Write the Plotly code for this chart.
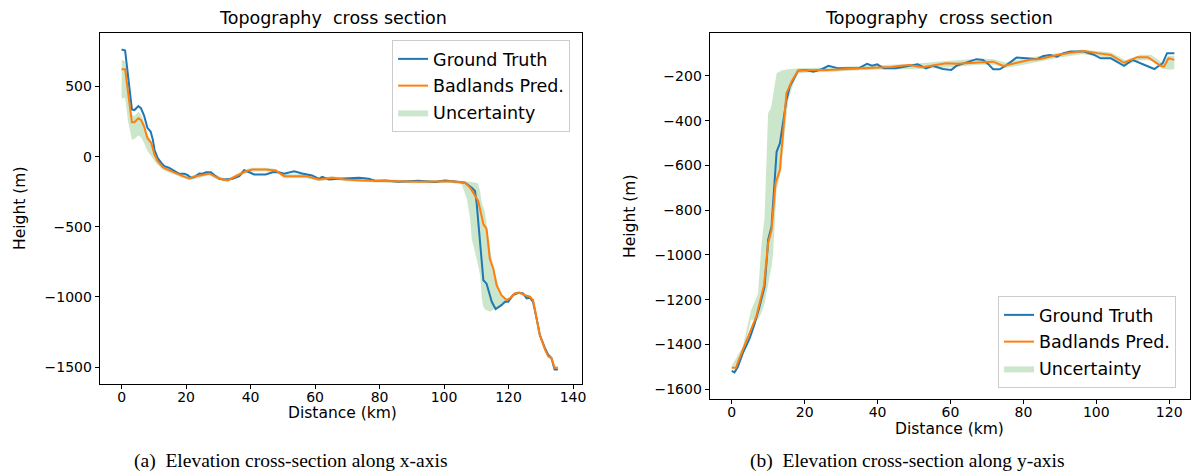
import plotly.graph_objects as go

W, H = 1194, 472

# ---------------- Left panel (along x-axis) ----------------
gt_a_x = [0, 1.1, 3.2, 4, 5.2, 6, 7, 8, 9, 9.7, 10.2, 11.2, 12.3, 13.3, 14.8, 16.4, 17.9, 19.5, 20.5, 21.5,
          22.6, 24.1, 25.1, 26.2, 27.7, 28.7, 30.3, 31.8, 34.4, 36.5, 38, 39.6, 41.1, 44.7, 46.8, 48.8, 50.4,
          53.5, 56, 59.1, 61.2, 62.2, 64.3, 67.4, 73.6, 76.7, 78.7, 81.8, 85.9, 92.1, 97.2, 100.3, 104.4,
          106.5, 108.6, 109.6, 110.1, 111.2, 112.2, 113.2, 114.8, 116, 117.8, 118.9, 119.9, 121.4, 123,
          124.5, 125.6, 126.6, 127.6, 128.7, 129.7, 131.3, 132.3, 133.3, 134.3, 135.3]
gt_a_y = [763, 756, 337, 332, 360, 346, 290, 205, 179, 120, 49, -10, -45, -68, -80, -103, -122, -122, -131, -151,
          -146, -120, -122, -111, -111, -131, -158, -163, -158, -139, -97, -111, -127, -127, -111, -111, -122,
          -104, -120, -134, -158, -144, -163, -158, -151, -158, -174, -170, -179, -172, -181, -170, -181,
          -186, -221, -245, -327, -610, -881, -905, -1034, -1086, -1058, -1034, -1034, -987, -970,
          -975, -1010, -1005, -1034, -1152, -1270, -1364, -1411, -1435, -1517, -1517]

pred_a_x = [0, 1.1, 3.2, 4, 5.2, 6, 7, 8, 9.2, 10.2, 11.2, 12.8, 14.3, 16.4, 19, 21, 23, 25.1, 27.2, 29.3, 31.4,
            33, 36.5, 38.5, 40.6, 44.7, 47.8, 50.4, 54, 57.1, 61.2, 65.3, 69.4, 74.6, 81.8, 92.1, 102.4, 105.5,
            106.5, 108.1, 109.1, 110.6, 112.2, 113.2, 114.2, 115.3, 116.3, 117.8, 119.4, 120.4, 121.9, 123.5,
            125, 126.6, 127.6, 128.7, 129.7, 131.3, 132.3, 133.3, 134.3, 135.3]
pred_a_y = [622, 622, 245, 245, 273, 262, 214, 132, 97, 14, -33, -75, -92, -115, -139, -155, -139, -131, -120, -146,
            -163, -168, -127, -104, -92, -92, -99, -139, -139, -139, -163, -151, -163, -170, -174, -179, -175, -181,
            -186, -221, -257, -316, -481, -516, -728, -799, -916, -987, -1022, -1010, -975, -970,
            -987, -998, -1022, -1140, -1270, -1375, -1423, -1435, -1505, -1505]

band_a_x = [0, 1.1, 2, 3.2, 4, 5.2, 6, 7, 8, 9.2, 10.2, 11.2, 12.8, 14.3, 16.4, 19, 21, 23, 25.1, 27.2, 29.3,
            31.4, 33, 36.5, 38.5, 40.6, 44.7, 47.8, 50.4, 54, 57.1, 61.2, 65.3, 69.4, 74.6, 81.8, 92.1, 102.4,
            105.5, 107.1, 108.1, 108.6, 110.1, 110.6, 111.2, 111.7, 112.2, 112.7, 113.7, 114.2, 114.8, 115.3,
            116.8, 117.8, 118.9, 120.4, 121.9, 123.5, 125, 126.6, 127.6, 128.7, 129.7, 131.3, 132.3, 133.3,
            134.3, 135.3]
band_a_lo = [415, 420, 250, 120, 125, 150, 140, 95, 40, 5, -33, -60, -95, -110, -130, -152, -168, -152, -145, -133,
             -160, -176, -180, -140, -118, -105, -105, -112, -152, -152, -152, -175, -163, -175, -182, -186, -190,
             -187, -198, -304, -445, -587, -728, -780, -846, -1010, -1069, -1090, -1100, -1105, -1100, -1090,
             -1070, -1050, -1035, -1020, -985, -980, -997, -1008, -1032, -1150, -1280, -1385, -1433, -1445,
             -1515, -1515]
band_a_hi = [690, 680, 560, 300, 290, 320, 300, 245, 160, 115, 35, -15, -60, -78, -100, -125, -142, -125, -115, -105,
             -130, -150, -155, -115, -90, -80, -80, -88, -126, -126, -120, -150, -140, -150, -158, -162, -168,
             -165, -170, -175, -178, -180, -188, -191, -250, -330, -360, -398, -563, -650, -728, -790,
             -916, -975, -1015, -1000, -965, -960, -977, -988, -1012, -1130, -1260, -1365, -1413, -1425,
             -1495, -1495]

# ---------------- Right panel (along y-axis) ----------------
gt_b_x = [0, 0.75, 1.66, 3, 4.9, 6.3, 7.6, 9, 9.8, 9.95, 10.9, 11.8, 12.3, 13.2, 14.1, 15, 15.9, 17.3, 18.2,
          20.1, 22.4, 24.7, 26.5, 29.3, 32, 34.8, 37.1, 38.5, 39.9, 41.7, 45, 48.7, 51, 53.3, 55.1, 57.9,
          60.2, 61.6, 64.3, 67.1, 68.9, 70.3, 71.7, 73.5, 75.4, 78.1, 80.9, 83.7, 85.5, 87.4, 89.2, 91,
          92.9, 96.6, 99.4, 101.2, 104, 107.6, 109.9, 113.2, 115.9, 118.2, 119.4, 121.4]
gt_b_y = [-1518, -1525, -1500, -1440, -1373, -1306, -1232, -1142, -978, -933, -874, -658, -539, -501, -397, -307,
          -248, -203, -176, -173, -181, -170, -155, -166, -166, -166, -146, -154, -148, -166, -166, -154, -148,
          -166, -155, -169, -173, -155, -141, -125, -128, -146, -170, -170, -151, -118, -121, -125, -111, -106,
          -114, -98, -91, -91, -106, -121, -121, -155, -128, -151, -169, -143, -98, -98]

pred_b_x = [0, 1.1, 3, 4.9, 6.7, 8.85, 9.95, 10.9, 12, 13.2, 14.1, 15, 16.4, 18.2, 23.5, 26.5, 35.7, 43.8, 45.9,
            48.7, 52.3, 56.9, 58.8, 61.6, 64.3, 68.9, 71.7, 74.5, 78.1, 81.8, 84.6, 89.2, 92.9, 96.6, 100.3,
            104, 107.6, 111.3, 114.1, 117.7, 118.6, 119.8, 121.4]
pred_b_y = [-1504, -1504, -1425, -1351, -1276, -1135, -948, -889, -680, -620, -427, -277, -225, -176, -173, -173,
            -166, -160, -155, -151, -161, -148, -143, -146, -143, -136, -136, -155, -141, -128, -124, -106, -96,
            -88, -98, -106, -141, -116, -116, -155, -158, -121, -128]

band_b_x = [0, 3, 5.3, 7.2, 8.1, 9, 9.95, 10.7, 10.9, 11.3, 12.3, 13.6, 14.6, 15.5, 17, 18.2, 22, 26.5, 35,
            44, 50, 57, 62, 68, 72, 75, 80, 85, 90, 96, 100, 104, 108, 112, 115, 118, 119.8, 121.4]
band_b_lo = [-1515, -1440, -1290, -1290, -1260, -1217, -1120, -1070, -1053, -1000, -710, -620, -441, -307, -230,
             -190, -182, -182, -175, -170, -170, -165, -158, -150, -150, -165, -150, -135, -118, -103, -110, -120,
             -152, -130, -130, -168, -172, -170]
band_b_hi = [-1495, -1410, -1247, -1172, -963, -829, -367, -344, -330, -292, -188, -176, -172, -170, -168, -166, -165,
             -162, -155, -150, -145, -135, -130, -122, -125, -140, -122, -110, -96, -82, -88, -95, -130, -105, -105,
             -140, -110, -110]

BLUE = '#1f77b4'
ORANGE = '#ff7f0e'
BAND = 'rgba(0,128,0,0.2)'

fig = go.Figure()


def add_panel(bx, blo, bhi, gx, gy, px, py, xa, ya, lg):
    fig.add_trace(go.Scatter(x=list(bx) + list(bx)[::-1], y=list(bhi) + list(blo)[::-1], fill='toself',
                             fillcolor=BAND, line=dict(width=0, color=BAND), mode='lines', name='Uncertainty',
                             xaxis=xa, yaxis=ya, legend=lg, legendrank=3, legendgroup=lg + 'c',
                             hoverinfo='skip'))
    fig.add_trace(go.Scatter(x=gx, y=gy, mode='lines', line=dict(color=BLUE, width=2), name='Ground Truth',
                             xaxis=xa, yaxis=ya, legend=lg, legendrank=1, legendgroup=lg + 'a'))
    fig.add_trace(go.Scatter(x=px, y=py, mode='lines', line=dict(color=ORANGE, width=2), name='Badlands Pred.',
                             xaxis=xa, yaxis=ya, legend=lg, legendrank=2, legendgroup=lg + 'b'))


add_panel(band_a_x, band_a_lo, band_a_hi, gt_a_x, gt_a_y, pred_a_x, pred_a_y, 'x', 'y', 'legend')
add_panel(band_b_x, band_b_lo, band_b_hi, gt_b_x, gt_b_y, pred_b_x, pred_b_y, 'x2', 'y2', 'legend2')

TICKF = dict(family='DejaVu Sans', size=14, color='black')
axcommon = dict(showline=True, mirror=True, linecolor='black', linewidth=1, ticks='outside', ticklen=4,
                tickcolor='black', showgrid=False, zeroline=False, tickfont=TICKF)


def px2x(p):
    return p / W


def px2y(p):
    return 1 - p / H


LEGF = dict(family='DejaVu Sans', size=17.5, color='black')
fig.update_layout(
    width=W, height=H, margin=dict(l=0, r=0, t=0, b=0), plot_bgcolor='white', paper_bgcolor='white',
    xaxis=dict(domain=[px2x(100), px2x(584)], range=[-6.8, 142.8], tickvals=[0, 20, 40, 60, 80, 100, 120, 140],
               anchor='y', ticklabelstandoff=-4, **axcommon),
    yaxis=dict(domain=[px2y(384), px2y(33)], range=[-1620, 881], tickvals=[-1500, -1000, -500, 0, 500],
               anchor='x', **axcommon),
    xaxis2=dict(domain=[px2x(712), 1.0], range=[-6.08, 125.7], tickvals=[0, 20, 40, 60, 80, 100, 120],
                anchor='y2', ticklabelstandoff=-4, **axcommon),
    yaxis2=dict(domain=[px2y(399), px2y(33)], range=[-1644, -8],
                tickvals=[-1600, -1400, -1200, -1000, -800, -600, -400, -200], anchor='x2', **axcommon),
    legend=dict(x=px2x(572), y=px2y(40), xanchor='right', yanchor='top', bgcolor='white',
                bordercolor='#cccccc', borderwidth=1, font=LEGF, tracegroupgap=1, itemwidth=30),
    legend2=dict(x=px2x(1180), y=px2y(388), xanchor='right', yanchor='bottom', bgcolor='white',
                 bordercolor='#cccccc', borderwidth=1, font=LEGF, tracegroupgap=1, itemwidth=30),
    showlegend=True,
)

ann = []
F = dict(family='DejaVu Sans', size=15.5, color='black')
TF = dict(family='DejaVu Sans', size=17.5, color='black')
CAP = dict(family='Liberation Serif', size=19.5, color='black')


def add_ann(text, x, y, font, angle=0):
    ann.append(dict(text=text, x=px2x(x), y=px2y(y), xref='paper', yref='paper', showarrow=False, font=font,
                    xanchor='center', yanchor='middle', textangle=angle))


add_ann('Topography\u00a0\u00a0cross section', 334, 18, TF)
add_ann('Topography\u00a0\u00a0cross section', 942, 18, TF)
add_ann('Distance (km)', 344, 413, F)
add_ann('Distance (km)', 953, 429, F)
add_ann('Height (m)', 20, 208, F, -90)
add_ann('Height (m)', 632, 216, F, -90)
add_ann('(a)\u00a0\u00a0Elevation cross-section along x-axis', 292, 461, CAP)
add_ann('(b)\u00a0\u00a0Elevation cross-section along y-axis', 911, 461, CAP)
fig.update_layout(annotations=ann)

fig.write_html('out.html')
